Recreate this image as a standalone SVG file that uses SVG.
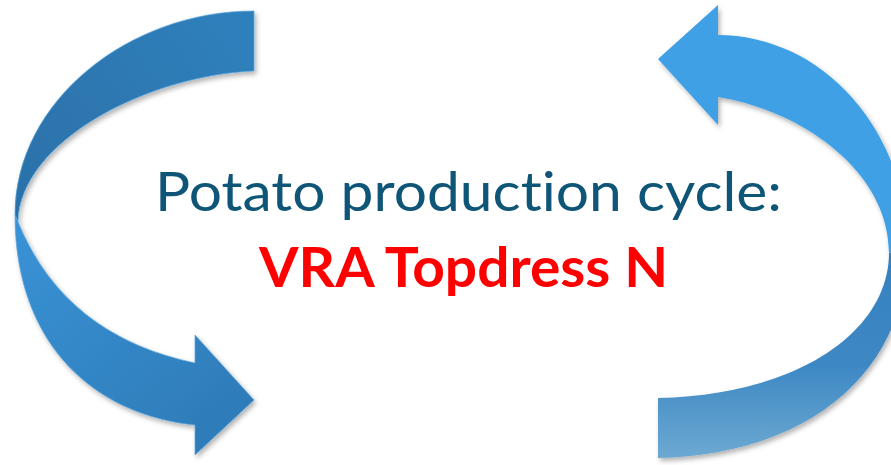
<svg xmlns="http://www.w3.org/2000/svg" width="891" height="465" viewBox="0 0 891 465">
  <style>
    text { font-variant-ligatures: none; font-feature-settings: "liga" 0, "clig" 0; }
    .t1 { font-family: Lato, "Liberation Sans", sans-serif; font-size: 55px; fill: #0F5577; }
    .t2 { font-family: Lato, "Liberation Sans", sans-serif; font-size: 56px; font-weight: bold; fill: #FF0000; }
    .edge { stroke: #5AA6DE; stroke-width: 1; stroke-opacity: 0.7; }
  </style>
  <defs>
    <filter id="shadow" x="-10%" y="-10%" width="125%" height="125%">
      <feDropShadow dx="2" dy="3" stdDeviation="2.5" flood-color="#000" flood-opacity="0.3"/>
    </filter>
    <linearGradient id="gLBack" gradientUnits="userSpaceOnUse" x1="254" y1="40" x2="15" y2="215">
      <stop offset="0" stop-color="#2F80BC"/>
      <stop offset="1" stop-color="#2C70A8"/>
    </linearGradient>
    <linearGradient id="gLFront" gradientUnits="userSpaceOnUse" x1="15" y1="215" x2="195" y2="425">
      <stop offset="0" stop-color="#3993D6"/>
      <stop offset="1" stop-color="#2F7DBA"/>
    </linearGradient>
    <linearGradient id="gRBack" gradientUnits="userSpaceOnUse" x1="0" y1="250" x2="0" y2="460">
      <stop offset="0" stop-color="#3580BF"/>
      <stop offset="0.55" stop-color="#3D88C4"/>
      <stop offset="1" stop-color="#6EAAD2"/>
    </linearGradient>
  </defs>

  <g id="connectors">
    <g id="arrow-left" filter="url(#shadow)">
      <path class="edge" fill="url(#gLBack)" d="M254,11 C130,11 15,100 15,215 L18,222 C20,140 150,75 254,71 Z"/>
      <path class="edge" fill="url(#gLFront)" d="M15,215 C15,345 95,415 195,425 L195,455 L254,400 L195,335 L195,363 C110,345 50,300 18,222 Z"/>
    </g>
    <g id="arrow-right" filter="url(#shadow)">
      <path fill="url(#gRBack)" d="M908,250 C905,380 800,455 658,458 L658,398 C800,395 889,330 889,253 Z"/>
      <path fill="#3FA0E6" d="M658,59 L718,5 L718,35 A190,215 0 0 1 908,250 L889,253 C889,170 800,110 718,97 L718,125 Z"/>
    </g>
  </g>

  <g id="title">
    <text class="t1" x="468.5" y="211" text-anchor="middle" textLength="627" lengthAdjust="spacingAndGlyphs">Potato production cycle:</text>
    <text class="t2" x="463.5" y="287" text-anchor="middle" textLength="409" lengthAdjust="spacingAndGlyphs">VRA Topdress N</text>
  </g>
</svg>
